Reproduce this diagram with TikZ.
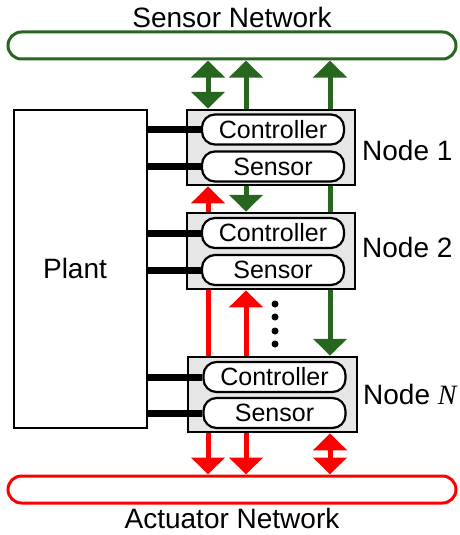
\documentclass[tikz,border=0pt]{standalone}
\usepackage{fontspec}
\setmainfont{Liberation Sans}
\newfontfamily\serifit{Liberation Serif}
\usetikzlibrary{arrows.meta,backgrounds}
\definecolor{gnet}{RGB}{38,102,30}
\definecolor{rnet}{RGB}{255,0,0}
\definecolor{boxgray}{RGB}{230,230,230}
\begin{document}
\begin{tikzpicture}[x=1pt,y=-1pt,
  net/.style={draw, line width=3pt, rounded corners=13.5pt, minimum width=448pt, minimum height=27pt, inner sep=0pt},
  box/.style={draw, line width=2.5pt, fill=boxgray, minimum width=168pt, minimum height=75pt, inner sep=0pt},
  pill/.style={draw, line width=2.2pt, fill=white, rounded corners=13pt, minimum width=142pt, minimum height=30pt, inner sep=0pt, font=\fontsize{25}{25}\selectfont},
  lbl/.style={font=\fontsize{28}{30}\selectfont, inner sep=0pt},
  stub/.style={line width=7pt},
  gdbl/.style={draw=gnet, line width=5pt, {Triangle[width=33pt,length=17pt]}-{Triangle[width=33pt,length=17pt]}},
  rdbl/.style={draw=rnet, line width=5pt, {Triangle[width=33pt,length=17pt]}-{Triangle[width=33pt,length=17pt]}}
]
\useasboundingbox (0,0) rectangle (459,535);

% networks
\node[net, draw=gnet] (sn) at (232,45.5) {};
\node[lbl] (snl) at (232,17) {Sensor Network};
\node[net, draw=rnet] (an) at (232,489.5) {};
\node[lbl] (anl) at (232,518) {Actuator Network};

% plant
\node[draw, line width=2pt, minimum width=133pt, minimum height=318pt, inner sep=0pt] (plant) at (80.5,269) {};
\node[lbl] (plantl) at (75,268) {Plant};

% nodes
\node[box] (n1) at (271,147.5) {};
\node[pill] (c1) at (273,129.5) {Controller};
\node[pill] (s1) at (273,166.5) {Sensor};
\node[lbl, anchor=west] (l1) at (362,150) {Node 1};

\node[box, minimum height=76pt] (n2) at (271,251) {};
\node[pill] (c2) at (273,233) {Controller};
\node[pill] (s2) at (273,270) {Sensor};
\node[lbl, anchor=west] (l2) at (362,247) {Node 2};

\node[box, minimum width=169pt] (nN) at (272.5,394.5) {};
\node[pill] (cN) at (274.5,377) {Controller};
\node[pill] (sN) at (274.5,413) {Sensor};
\node[lbl, anchor=west] (lN) at (363,394) {Node {\serifit\itshape N}};

% plant connections
\draw[stub] (plant.east |- c1) -- (c1.west);
\draw[stub] (plant.east |- s1) -- (s1.west);
\draw[stub] (plant.east |- c2) -- (c2.west);
\draw[stub] (plant.east |- s2) -- (s2.west);
\draw[stub] (plant.east |- cN) -- (cN.west);
\draw[stub] (plant.east |- sN) -- (sN.west);

% dots
\foreach \yy in {304,317,331,344} \fill (275,\yy) circle (3.5pt);

% arrows
\coordinate (xa) at (208,0);
\coordinate (xb) at (246,0);
\coordinate (xc) at (330,0);
\begin{scope}[on background layer]
\draw[gdbl] (sn.south -| xa) -- (n1.north -| xa);
\draw[gdbl] (n2.north -| xb) -- (sn.south -| xb);
\draw[gdbl] (nN.north -| xc) -- (sn.south -| xc);
\draw[rdbl] (n1.south -| xa) -- (an.north -| xa);
\draw[rdbl] (n2.south -| xb) -- (an.north -| xb);
\draw[rdbl] (nN.south -| xc) -- (an.north -| xc);
\end{scope}
\end{tikzpicture}
\end{document}
